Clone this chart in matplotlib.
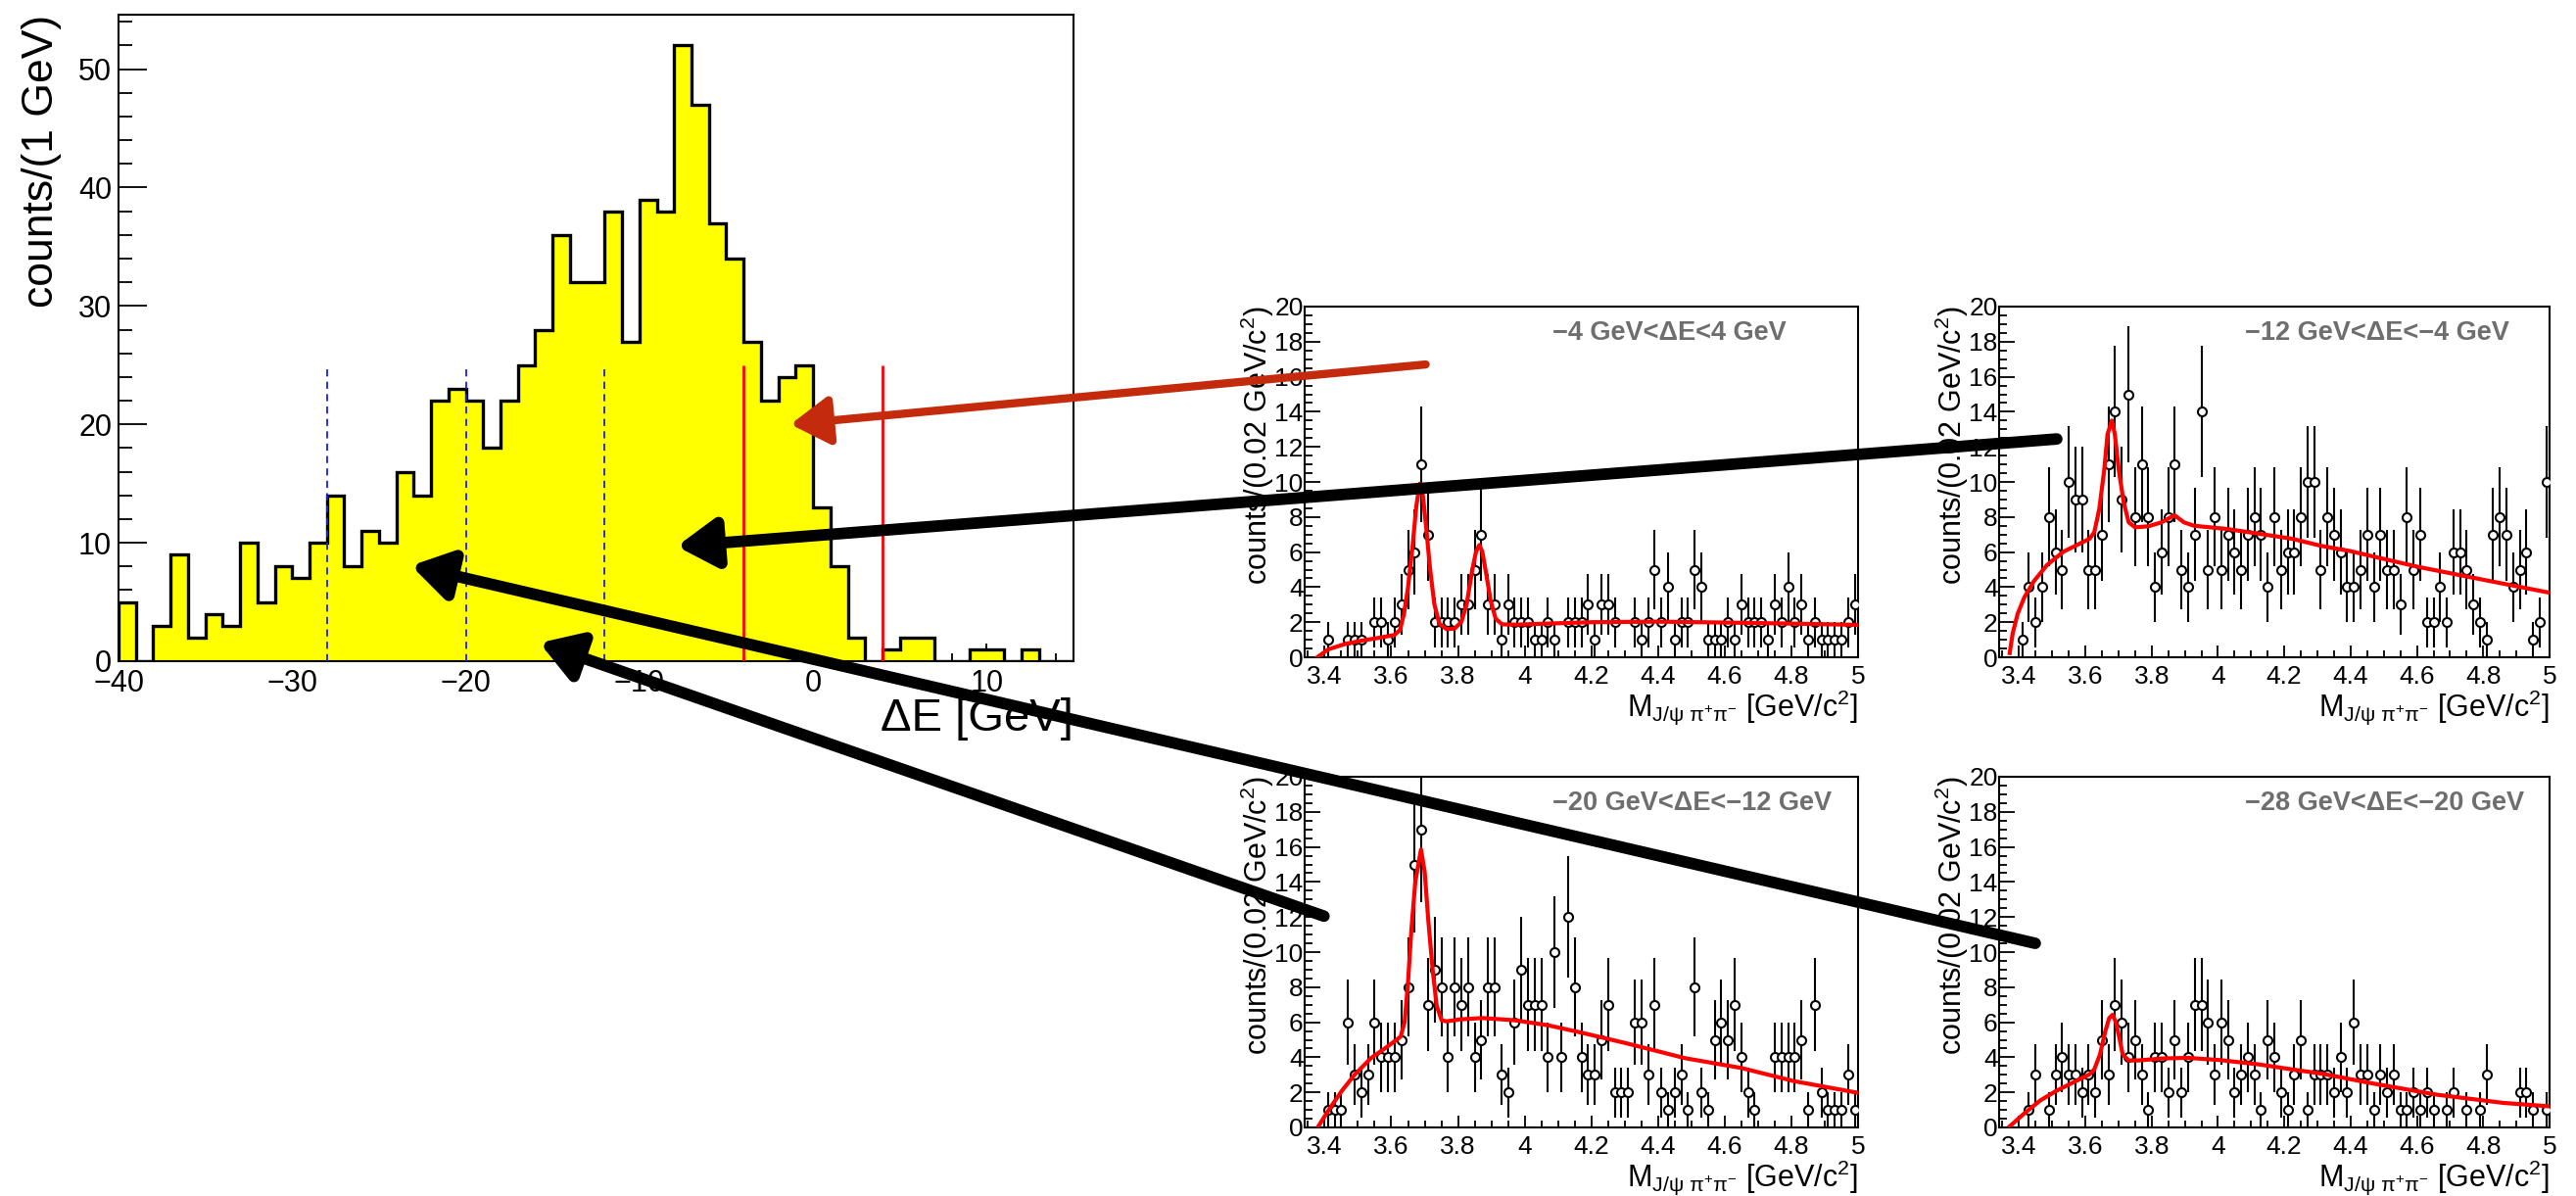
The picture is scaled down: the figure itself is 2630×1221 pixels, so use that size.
import matplotlib
matplotlib.use("Agg")
import matplotlib.pyplot as plt
import numpy as np
from matplotlib.patches import ConnectionPatch
from matplotlib.ticker import MultipleLocator

plt.rcParams["font.family"] = ["Liberation Sans", "DejaVu Sans"]
plt.rcParams["mathtext.fontset"] = "custom"
plt.rcParams["mathtext.rm"] = "Liberation Sans"
plt.rcParams["mathtext.it"] = "Liberation Sans:italic"
plt.rcParams["mathtext.bf"] = "Liberation Sans:bold"

# Delta E spectrum, 1 GeV bins from -40 to 15
DE_EDGES = np.arange(-40, 16)
DE_COUNTS = [5, 0, 3, 9, 2, 4, 3, 10, 5, 8,
             7, 10, 14, 8, 11, 10, 16, 14, 22, 23,
             22, 18, 22, 25, 28, 36, 32, 32, 38, 27,
             39, 38, 52, 47, 37, 34, 27, 22, 24, 25,
             13, 8, 2, 0, 1, 2, 2, 0, 0, 1,
             1, 0, 1, 0, 0]
BLUE_CUTS = [-28, -20, -12]
RED_CUTS = [-4, 4]
CUT_TOP = 25

# M(J/psi pi pi) spectra, 80 bins of 0.02 GeV from 3.4 to 5.0
M_CENTERS = 3.4 + 0.02 * (np.arange(80) + 0.5)

COUNTS_A = [1, 0, 0, 1, 1, 1, 0, 2, 2, 1,
            2, 3, 5, 6, 11, 7, 2, 2, 2, 2,
            3, 3, 5, 7, 3, 3, 1, 3, 2, 2,
            2, 1, 1, 2, 1, 0, 2, 2, 2, 3,
            1, 3, 3, 2, 0, 0, 2, 1, 2, 5,
            2, 4, 1, 2, 2, 5, 4, 1, 1, 1,
            2, 1, 3, 2, 2, 2, 1, 3, 2, 4,
            2, 3, 1, 2, 1, 1, 1, 1, 2, 3]
COUNTS_B = [1, 4, 2, 4, 8, 6, 5, 10, 9, 9,
            5, 5, 7, 11, 14, 9, 15, 8, 11, 8,
            4, 6, 8, 11, 5, 4, 7, 14, 5, 8,
            5, 7, 6, 5, 7, 8, 7, 4, 8, 5,
            6, 6, 8, 10, 10, 5, 8, 7, 6, 4,
            4, 5, 7, 4, 7, 5, 5, 3, 8, 5,
            7, 2, 2, 4, 2, 6, 6, 5, 3, 2,
            1, 7, 8, 7, 4, 5, 6, 1, 2, 10]
COUNTS_C = [1, 1, 1, 6, 3, 2, 3, 6, 4, 4,
            4, 5, 8, 15, 17, 7, 9, 8, 4, 8,
            7, 8, 4, 5, 8, 8, 3, 2, 6, 9,
            7, 7, 7, 4, 10, 4, 12, 8, 4, 3,
            3, 5, 7, 2, 2, 2, 6, 6, 3, 7,
            2, 1, 2, 3, 1, 8, 2, 1, 5, 6,
            5, 7, 4, 2, 1, 0, 0, 4, 4, 4,
            4, 5, 1, 7, 2, 1, 1, 1, 3, 1]
COUNTS_D = [0, 1, 3, 0, 1, 3, 4, 3, 3, 2,
            3, 2, 5, 3, 7, 6, 4, 5, 3, 1,
            4, 4, 2, 5, 2, 4, 7, 7, 6, 3,
            6, 5, 2, 3, 4, 3, 1, 5, 4, 2,
            1, 3, 5, 1, 3, 3, 3, 2, 4, 2,
            6, 3, 3, 1, 3, 2, 3, 1, 1, 2,
            1, 2, 1, 0, 1, 2, 0, 1, 0, 1,
            3, 0, 0, 0, 0, 2, 2, 1, 0, 1]

# fit curves
FIT_A_X = [3.378, 3.412, 3.462, 3.511, 3.560, 3.609, 3.626, 3.638, 3.650, 3.663,
           3.675, 3.685, 3.695, 3.705, 3.716, 3.729, 3.744, 3.766, 3.790, 3.810,
           3.826, 3.842, 3.854, 3.864, 3.873, 3.885, 3.898, 3.913, 3.932, 3.971,
           4.2, 4.4, 4.6, 4.8, 4.995]
FIT_A_Y = [0.0, 0.46, 0.76, 0.95, 1.10, 1.27, 1.55, 2.48, 3.97, 6.2,
           8.62, 9.9, 9.18, 7.32, 5.08, 3.03, 1.92, 1.6, 1.64, 2.01,
           3.03, 4.9, 6.02, 6.4, 6.02, 4.71, 3.22, 2.2, 1.88, 1.86,
           2.0, 2.03, 1.98, 1.92, 1.85]
FIT_B_X = [3.372, 3.381, 3.396, 3.416, 3.445, 3.485, 3.534, 3.583, 3.613, 3.627,
           3.642, 3.657, 3.667, 3.680, 3.689, 3.701, 3.716, 3.731, 3.750, 3.790,
           3.829, 3.869, 3.898, 3.928, 4.026, 4.125, 4.223, 4.312, 4.4, 4.6,
           4.8, 4.995]
FIT_B_Y = [0.24, 1.36, 2.48, 3.41, 4.34, 5.27, 6.02, 6.48, 6.76, 7.13,
           8.44, 10.67, 12.72, 13.5, 12.72, 10.67, 8.81, 7.69, 7.41, 7.47,
           7.69, 8.1, 7.69, 7.5, 7.32, 7.04, 6.76, 6.35, 6.05, 5.17,
           4.42, 3.7]
FIT_C_X = [3.381, 3.412, 3.452, 3.491, 3.540, 3.589, 3.628, 3.640, 3.650, 3.660,
           3.672, 3.689, 3.700, 3.711, 3.724, 3.736, 3.751, 3.766, 3.805, 3.873,
           3.971, 4.069, 4.167, 4.305, 4.481, 4.65, 4.808, 4.995]
FIT_C_Y = [0.06, 0.99, 2.1, 3.03, 3.97, 4.62, 5.18, 6.02, 8.25, 11.23,
           14.02, 15.85, 14.58, 11.79, 8.99, 6.94, 6.11, 6.05, 6.16, 6.24,
           6.11, 5.83, 5.42, 4.8, 3.95, 3.39, 2.64, 1.99]
FIT_D_X = [3.372, 3.416, 3.465, 3.514, 3.564, 3.613, 3.627, 3.644, 3.660, 3.672,
           3.682, 3.692, 3.703, 3.713, 3.731, 3.760, 3.829, 3.908, 4.007, 4.125,
           4.223, 4.312, 4.466, 4.663, 4.86, 4.995]
FIT_D_Y = [0.06, 0.8, 1.55, 2.1, 2.57, 3.03, 3.31, 4.15, 5.46, 6.24,
           6.42, 6.02, 5.08, 4.15, 3.82, 3.82, 3.93, 3.97, 3.84, 3.59,
           3.31, 3.07, 2.51, 1.86, 1.4, 1.21]

TITLES = ["−4 GeV<ΔE<4 GeV", "−12 GeV<ΔE<−4 GeV",
          "−20 GeV<ΔE<−12 GeV", "−28 GeV<ΔE<−20 GeV"]

# arrow tails in panel data coords, tips in Delta E data coords
ARROW_TAILS = [(3.703, 16.7), (3.514, 12.45), (3.398, 12.05), (3.449, 10.5)]
ARROW_TIPS = [(-1.3, 20.0), (-7.85, 9.7), (-15.75, 1.55), (-23.15, 8.07)]
ARROW_COLORS = ["#c42a0c", "black", "black", "black"]
ARROW_WIDTHS = [6.0, 8.5, 8.5, 8.5]

W, H = 2630, 1221


def rect(left, top, right, bottom):
    return [left / W, 1 - bottom / H, (right - left) / W, (bottom - top) / H]


def draw_main(ax):
    ax.stairs(DE_COUNTS, DE_EDGES, fill=True, facecolor="#ffff00",
              edgecolor="black", linewidth=2.4, zorder=2)
    ax.vlines(BLUE_CUTS, 0, CUT_TOP, colors="#1a1aff", linestyles=(0, (4, 3)),
              linewidth=1.3, zorder=3)
    ax.vlines(RED_CUTS, 0, CUT_TOP, colors="red", linewidth=2.0, zorder=3)
    ax.set_xlim(-40, 15)
    ax.set_ylim(0, 54.6)
    ax.xaxis.set_major_locator(MultipleLocator(10))
    ax.xaxis.set_minor_locator(MultipleLocator(2))
    ax.yaxis.set_major_locator(MultipleLocator(10))
    ax.yaxis.set_minor_locator(MultipleLocator(2))
    ax.tick_params(which="both", direction="in", top=False, right=False, width=1.3)
    ax.tick_params(axis="x", which="major", length=13, labelsize=22, pad=6)
    ax.tick_params(axis="x", which="minor", length=6)
    ax.tick_params(axis="y", which="major", length=21, labelsize=22, pad=5)
    ax.tick_params(axis="y", which="minor", length=10)
    for sp in ax.spines.values():
        sp.set_linewidth(1.5)
    ax.set_xlabel("ΔE [GeV]", fontsize=34, loc="right")
    ax.xaxis.set_label_coords(1.0, -0.108)
    ax.xaxis.label.set_va("baseline")
    ax.set_ylabel("counts/(1 GeV)", fontsize=32, loc="top")
    ax.yaxis.set_label_coords(-0.0595, 1.0)


def draw_panel(ax, counts, fit_x, fit_y, title):
    counts = np.asarray(counts, dtype=float)
    keep = counts > 0
    ax.errorbar(M_CENTERS[keep], counts[keep], yerr=np.sqrt(counts[keep]),
                fmt="o", ms=6.5, mfc="white", mec="black", mew=1.5,
                ecolor="black", elinewidth=1.5, capsize=0, zorder=3)
    ax.plot(fit_x, fit_y, color="red", lw=3.0, zorder=4)
    ax.set_xlim(3.34, 5.0)
    ax.set_ylim(0, 20)
    ax.xaxis.set_major_locator(MultipleLocator(0.2))
    ax.xaxis.set_minor_locator(MultipleLocator(0.05))
    ax.yaxis.set_major_locator(MultipleLocator(2))
    ax.yaxis.set_minor_locator(MultipleLocator(0.5))
    ax.xaxis.set_major_formatter(plt.FuncFormatter(lambda v, p: f"{v:g}"))
    ax.tick_params(which="both", direction="in", top=False, right=False, width=1.3)
    ax.tick_params(axis="x", which="major", length=8.5, labelsize=19, pad=5.5)
    ax.tick_params(axis="x", which="minor", length=5)
    ax.tick_params(axis="y", which="major", length=11.5, labelsize=19, pad=1)
    ax.tick_params(axis="y", which="minor", length=6)
    for sp in ax.spines.values():
        sp.set_linewidth(1.5)
    ax.text(0.447, 0.925, title, transform=ax.transAxes, fontsize=19.5,
            fontweight="bold", color="#6e6e6e", ha="left", va="center")
    ax.set_xlabel(r"M$_{\mathregular{J/ψ\ π^{+}π^{-}}}$ [GeV/c$^{\mathregular{2}}$]",
                  fontsize=22, loc="right")
    ax.xaxis.set_label_coords(1.0, -0.168)
    ax.xaxis.label.set_va("baseline")
    ax.set_ylabel(r"counts/(0.02 GeV/c$^{\mathregular{2}}$)", fontsize=22, loc="top")
    ax.yaxis.set_label_coords(-0.052, 1.0)


def main():
    fig = plt.figure(figsize=(W / 100, H / 100), dpi=100)
    ax_main = fig.add_axes(rect(121, 15, 1096, 675))
    panels = [
        fig.add_axes(rect(1332, 313, 1897, 671)),
        fig.add_axes(rect(2041, 313, 2603, 671)),
        fig.add_axes(rect(1332, 793, 1897, 1151)),
        fig.add_axes(rect(2041, 793, 2603, 1151)),
    ]

    draw_main(ax_main)
    counts = [COUNTS_A, COUNTS_B, COUNTS_C, COUNTS_D]
    fits = [(FIT_A_X, FIT_A_Y), (FIT_B_X, FIT_B_Y), (FIT_C_X, FIT_C_Y), (FIT_D_X, FIT_D_Y)]
    for ax, c, (fx, fy), title in zip(panels, counts, fits, TITLES):
        draw_panel(ax, c, fx, fy, title)

    for ax, tail, tip, color, lw in zip(panels, ARROW_TAILS, ARROW_TIPS,
                                        ARROW_COLORS, ARROW_WIDTHS):
        con = ConnectionPatch(xyA=tail, coordsA=ax.transData,
                              xyB=tip, coordsB=ax_main.transData,
                              arrowstyle="-|>,head_length=2.4,head_width=1.5",
                              mutation_scale=10, lw=lw, color=color,
                              shrinkA=0, shrinkB=0, zorder=10)
        fig.add_artist(con)

    fig.savefig("out.png", dpi=100)
    plt.close(fig)


if __name__ == "__main__":
    main()
